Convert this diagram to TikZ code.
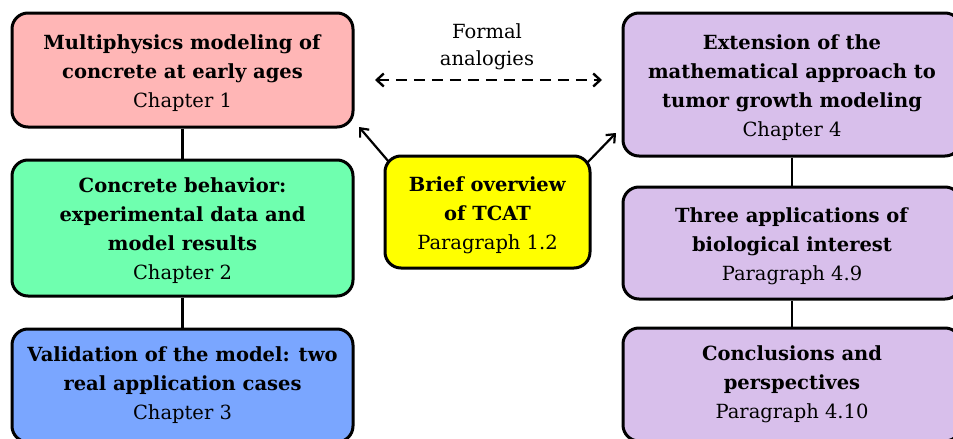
\documentclass[tikz,border=0pt]{standalone}
\usepackage{fontspec}
\setmainfont{DejaVu Serif}
\usetikzlibrary{arrows.meta}
\definecolor{cpink}{RGB}{255,182,182}
\definecolor{cgreen}{RGB}{111,255,175}
\definecolor{cblue}{RGB}{122,166,255}
\definecolor{cyellow}{RGB}{255,255,0}
\definecolor{cpurple}{RGB}{216,191,235}
\newcommand\toppad{\rule{0pt}{21pt}}
\tikzset{
  box/.style={draw=black, line width=3pt, rounded corners=16pt, align=center,
    inner sep=0pt, font=\fontsize{19.5}{29}\selectfont},
  link/.style={line width=2.2pt},
  arr/.style={line width=2.2pt, -{Straight Barb[length=7pt,width=12pt,line width=2.2pt]}},
  darr/.style={line width=2.6pt, dash pattern=on 11pt off 7pt,
    {Straight Barb[length=7pt,width=13pt,line width=2.4pt]}-{Straight Barb[length=7pt,width=13pt,line width=2.4pt]}},
}
\begin{document}
\begin{tikzpicture}[x=1pt,y=-1pt]
\useasboundingbox (0,0) rectangle (953,439);
\begin{scope}
\clip (0,0) rectangle (953,439);
\node[box, fill=cpink, minimum width=341pt, minimum height=114pt] (b1) at (182.5,70)
  {\toppad\textbf{Multiphysics modeling of}\\\textbf{concrete at early ages}\\Chapter 1};
\node[box, fill=cgreen, minimum width=341pt, minimum height=136pt] (b2) at (182.5,228)
  {\toppad\textbf{Concrete behavior:}\\\textbf{experimental data and}\\\textbf{model results}\\Chapter 2};
\node[box, fill=cblue, minimum width=341pt, minimum height=113pt] (b3) at (182.5,385.5)
  {\textbf{Validation of the model: two}\\\textbf{real application cases}\\Chapter 3};
\node[box, fill=cyellow, minimum width=205pt, minimum height=112pt] (y) at (487.5,212)
  {\toppad\textbf{Brief overview}\\\textbf{of TCAT}\\Paragraph 1.2};
\node[box, fill=cpurple, minimum width=338pt, minimum height=143pt] (b4) at (792,84.5)
  {\toppad\textbf{Extension of the}\\\textbf{mathematical approach to}\\\textbf{tumor growth modeling}\\Chapter 4};
\node[box, fill=cpurple, minimum width=338pt, minimum height=112pt] (b5) at (792,243)
  {\toppad\textbf{Three applications of}\\\textbf{biological interest}\\Paragraph 4.9};
\node[box, fill=cpurple, minimum width=338pt, minimum height=113pt] (b6) at (792,384.5)
  {\textbf{Conclusions and}\\\textbf{perspectives}\\Paragraph 4.10};
\node[align=center, font=\fontsize{19.5}{27}\selectfont] (fa) at (487,47) {Formal\\analogies};
\end{scope}
\draw[link] (b1.south) -- (b2.north);
\draw[link] (b2.south) -- (b3.north);
\draw[link] (b4.south) -- (b5.north);
\draw[link] (b5.south) -- (b6.north);
\coordinate (la) at (375,80);
\coordinate (ra) at (602,80);
\draw[darr] (la) -- (ra);
\coordinate (ys1) at (389,162);
\coordinate (t1) at (359,127);
\coordinate (ys2) at (587,163);
\coordinate (t2) at (616,133);
\draw[arr] (ys1) -- (t1);
\draw[arr] (ys2) -- (t2);
\end{tikzpicture}
\end{document}
